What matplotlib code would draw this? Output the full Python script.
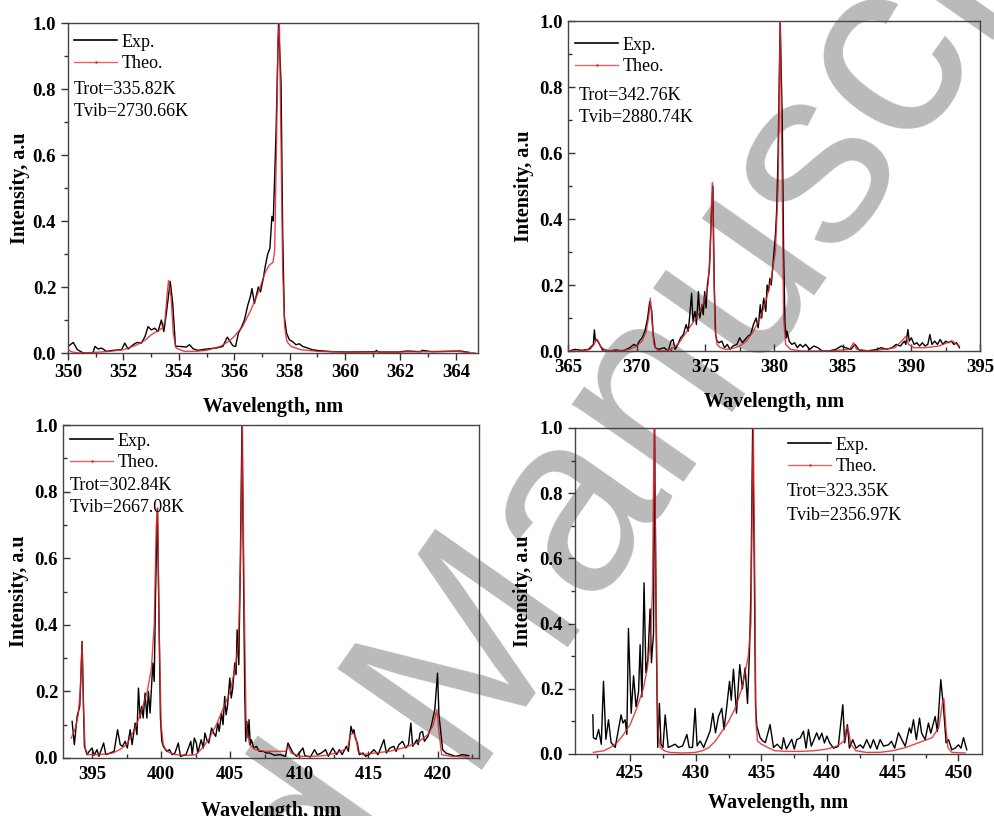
import numpy as np
import matplotlib
matplotlib.use("Agg")
import matplotlib.pyplot as plt
from matplotlib.lines import Line2D
from matplotlib.ticker import MultipleLocator

plt.rcParams['font.family'] = ['Liberation Serif', 'DejaVu Serif']

# ---------------- data (wavelength nm, normalised intensity) ----------------
p1_exp = [(350.0,0.02),(350.19,0.032),(350.34,0.01),(350.55,0.0),(350.9,0.0),(350.97,0.02),(351.09,0.012),(351.21,0.015),
          (351.39,0.005),(351.63,0.008),(351.93,0.01),(352.05,0.03),(352.17,0.012),(352.35,0.025),(352.49,0.032),(352.65,0.03),
          (352.78,0.05),(352.89,0.08),(353.01,0.07),(353.13,0.075),(353.25,0.065),(353.37,0.1),(353.46,0.065),(353.55,0.12),
          (353.69,0.217),(353.78,0.15),(353.88,0.02),(354.03,0.02),(354.27,0.018),(354.39,0.025),(354.51,0.013),(354.69,0.008),
          (354.99,0.012),(355.35,0.015),(355.59,0.02),(355.75,0.048),(355.95,0.022),(356.05,0.02),(356.15,0.06),(356.25,0.076),
          (356.37,0.1),(356.49,0.145),(356.58,0.17),(356.64,0.195),(356.73,0.15),(356.87,0.2),(356.95,0.185),(357.05,0.226),
          (357.12,0.263),(357.21,0.3),(357.29,0.318),(357.36,0.414),(357.41,0.4),(357.51,0.67),(357.6,1.0),(357.69,0.82),
          (357.75,0.36),(357.81,0.11),(357.89,0.06),(357.99,0.04),(358.1,0.035),(358.23,0.025),(358.35,0.028),(358.47,0.02),
          (358.65,0.015),(358.82,0.01),(359.06,0.007),(359.54,0.004),(360.14,0.003),(361.1,0.004),(361.13,0.008),(361.2,0.003),
          (361.94,0.003),(362.24,0.006),(362.72,0.004),(362.78,0.008),(363.14,0.004),(364.16,0.006),(364.46,0.002)]
p1_theo = [(350.0,0.01),(350.15,0.003),(350.4,0.0),(351.0,0.002),(351.5,0.005),(352.0,0.01),(352.5,0.025),(352.8,0.04),
           (353.0,0.055),(353.2,0.065),(353.4,0.075),(353.5,0.095),(353.57,0.17),(353.63,0.22),(353.72,0.17),(353.8,0.06),
           (353.9,0.015),(354.2,0.005),(354.6,0.005),(355.0,0.008),(355.5,0.02),(355.8,0.035),(356.0,0.05),(356.3,0.08),
           (356.6,0.13),(356.9,0.19),(357.1,0.24),(357.25,0.265),(357.4,0.275),(357.46,0.31),(357.52,0.6),(357.58,0.95),
           (357.63,1.0),(357.68,0.7),(357.75,0.25),(357.82,0.08),(357.9,0.035),(358.05,0.02),(358.4,0.01),(359.0,0.005),
           (360.0,0.003),(362.0,0.003),(364.0,0.005),(364.7,0.0)]

p2_exp = [(365.1,0.0),(365.5,0.005),(366.0,0.002),(366.5,0.005),(366.85,0.02),(366.92,0.064),(367.0,0.03),(367.1,0.035),
          (367.3,0.02),(367.5,0.005),(368.0,0.0),(368.5,0.003),(369.0,0.0),(369.5,0.01),(369.8,0.02),(370.0,0.015),(370.2,0.03),
          (370.4,0.04),(370.6,0.06),(370.8,0.1),(370.95,0.15),(371.1,0.12),(371.2,0.05),(371.35,0.01),(371.6,0.005),(372.0,0.01),
          (372.3,0.0),(372.5,0.03),(372.65,0.035),(372.8,0.005),(373.0,0.02),(373.2,0.04),(373.4,0.05),(373.6,0.08),(373.75,0.06),
          (373.85,0.1),(374.0,0.175),(374.1,0.09),(374.25,0.12),(374.35,0.08),(374.5,0.18),(374.6,0.1),(374.75,0.14),(374.85,0.11),
          (374.95,0.18),(375.05,0.13),(375.15,0.2),(375.3,0.25),(375.45,0.42),(375.55,0.5),(375.65,0.2),(375.75,0.05),(375.85,0.03),
          (376.0,0.025),(376.2,0.03),(376.4,0.01),(376.6,0.02),(376.8,0.005),(377.0,0.015),(377.3,0.02),(377.5,0.04),(377.7,0.025),
          (377.9,0.035),(378.1,0.045),(378.3,0.05),(378.5,0.08),(378.7,0.1),(378.85,0.07),(379.0,0.14),(379.1,0.1),(379.25,0.16),
          (379.4,0.12),(379.5,0.2),(379.6,0.18),(379.7,0.22),(379.8,0.2),(379.9,0.25),(380.0,0.3),(380.1,0.35),(380.2,0.43),
          (380.3,0.6),(380.45,1.0),(380.6,0.7),(380.7,0.3),(380.8,0.08),(380.9,0.04),(380.95,0.06),(381.1,0.03),(381.3,0.02),
          (381.5,0.025),(381.7,0.01),(381.9,0.02),(382.1,0.012),(382.3,0.02),(382.6,0.005),(382.9,0.015),(383.2,0.01),(383.5,0.0),
          (384.0,0.0),(384.5,0.005),(384.9,0.015),(385.2,0.01),(385.6,0.005),(385.9,0.02),(386.2,0.003),(386.8,0.0),(387.5,0.005),
          (387.8,0.01),(388.2,0.005),(388.6,0.01),(388.9,0.02),(389.2,0.015),(389.5,0.03),(389.6,0.02),(389.75,0.065),(389.85,0.03),
          (390.0,0.04),(390.2,0.02),(390.4,0.025),(390.6,0.015),(390.8,0.025),(391.0,0.015),(391.2,0.02),(391.35,0.05),(391.5,0.02),
          (391.7,0.03),(391.9,0.02),(392.1,0.035),(392.3,0.02),(392.5,0.03),(392.7,0.025),(392.9,0.03),(393.1,0.02),(393.3,0.025),
          (393.5,0.01)]
p2_theo = [(365.0,0.0),(366.0,0.0),(366.6,0.005),(366.9,0.02),(367.05,0.035),(367.2,0.03),(367.4,0.01),(367.8,0.002),
           (368.5,0.0),(369.5,0.005),(370.0,0.015),(370.4,0.03),(370.7,0.06),(370.9,0.11),(371.0,0.16),(371.1,0.1),(371.25,0.02),
           (371.5,0.003),(372.0,0.0),(372.5,0.005),(373.0,0.02),(373.5,0.05),(374.0,0.08),(374.5,0.11),(374.9,0.15),(375.2,0.2),
           (375.35,0.3),(375.45,0.45),(375.52,0.51),(375.6,0.3),(375.7,0.07),(375.85,0.02),(376.1,0.01),(376.5,0.005),(377.0,0.008),
           (377.5,0.015),(378.0,0.03),(378.5,0.06),(379.0,0.1),(379.4,0.15),(379.8,0.22),(380.1,0.3),(380.3,0.5),(380.45,1.0),
           (380.6,0.5),(380.7,0.1),(380.85,0.02),(381.2,0.005),(382.0,0.0),(384.0,0.0),(385.5,0.005),(385.8,0.025),(386.0,0.005),
           (387.0,0.0),(388.0,0.005),(388.8,0.01),(389.3,0.03),(389.6,0.045),(389.8,0.02),(390.2,0.01),(391.0,0.01),(392.0,0.015),
           (392.6,0.025),(393.0,0.03),(393.5,0.015)]

p3_exp = [(393.56,0.11),(393.72,0.04),(393.92,0.125),(394.11,0.155),(394.2,0.25),(394.28,0.35),(394.36,0.2),(394.45,0.035),
          (394.64,0.01),(394.8,0.02),(395.0,0.03),(395.15,0.008),(395.36,0.025),(395.5,0.005),(395.84,0.045),(396.0,0.01),
          (396.32,0.015),(396.6,0.02),(396.85,0.085),(397.04,0.04),(397.2,0.035),(397.4,0.05),(397.55,0.03),(397.76,0.085),
          (397.9,0.04),(398.12,0.105),(398.25,0.07),(398.36,0.21),(398.48,0.12),(398.6,0.155),(398.7,0.12),(398.84,0.195),
          (398.97,0.12),(399.08,0.2),(399.2,0.135),(399.4,0.285),(399.5,0.23),(399.6,0.5),(399.73,0.75),(399.85,0.4),(399.95,0.12),
          (400.05,0.05),(400.16,0.035),(400.4,0.02),(400.6,0.025),(400.8,0.01),(401.0,0.015),(401.24,0.045),(401.4,0.005),
          (401.8,0.01),(402.15,0.05),(402.25,0.01),(402.4,0.06),(402.55,0.045),(402.65,0.015),(402.9,0.055),(403.05,0.03),
          (403.17,0.075),(403.3,0.055),(403.45,0.045),(403.65,0.09),(403.8,0.075),(403.95,0.065),(404.1,0.105),(404.2,0.08),
          (404.37,0.135),(404.48,0.1),(404.6,0.185),(404.7,0.13),(404.8,0.155),(404.97,0.24),(405.07,0.18),(405.17,0.205),
          (405.33,0.285),(405.42,0.25),(405.5,0.385),(405.62,0.28),(405.72,0.55),(405.85,1.0),(405.95,0.6),(406.05,0.2),
          (406.12,0.05),(406.2,0.11),(406.3,0.06),(406.36,0.115),(406.45,0.04),(406.53,0.055),(406.7,0.03),(406.9,0.035),
          (407.1,0.02),(407.4,0.02),(407.6,0.015),(407.86,0.015),(408.2,0.008),(408.6,0.01),(409.0,0.005),(409.18,0.045),
          (409.3,0.035),(409.54,0.015),(409.8,0.005),(410.26,0.03),(410.4,0.007),(410.8,0.003),(411.1,0.025),(411.3,0.01),
          (411.6,0.015),(411.9,0.025),(412.1,0.005),(412.42,0.03),(412.7,0.01),(412.9,0.025),(413.1,0.01),(413.4,0.035),
          (413.55,0.02),(413.74,0.095),(413.86,0.075),(413.95,0.085),(414.05,0.06),(414.2,0.045),(414.34,0.01),(414.6,0.015),
          (414.8,0.005),(415.05,0.01),(415.4,0.025),(415.7,0.01),(416.12,0.055),(416.3,0.015),(416.55,0.03),(416.84,0.035),
          (417.0,0.02),(417.2,0.04),(417.47,0.05),(417.7,0.03),(417.9,0.04),(418.07,0.105),(418.2,0.035),(418.5,0.055),
          (418.6,0.04),(418.74,0.075),(418.91,0.08),(419.05,0.05),(419.3,0.065),(419.54,0.095),(419.8,0.145),(420.0,0.255),
          (420.1,0.13),(420.37,0.025),(420.6,0.015),(420.95,0.01),(421.3,0.005),(421.8,0.01),(422.27,0.007)]
p3_theo = [(393.5,0.06),(393.8,0.09),(394.0,0.13),(394.15,0.2),(394.28,0.35),(394.38,0.15),(394.5,0.03),(394.7,0.01),
           (395.5,0.01),(396.0,0.012),(396.5,0.015),(397.0,0.025),(397.5,0.04),(398.0,0.08),(398.5,0.13),(399.0,0.2),
           (399.3,0.27),(399.5,0.4),(399.65,0.7),(399.75,0.75),(399.85,0.4),(400.0,0.1),(400.15,0.04),(400.4,0.02),(401.0,0.01),
           (402.0,0.008),(402.5,0.01),(403.0,0.03),(403.5,0.06),(404.0,0.1),(404.5,0.15),(405.0,0.2),(405.4,0.28),(405.6,0.35),
           (405.75,0.6),(405.88,1.0),(406.0,0.5),(406.15,0.1),(406.4,0.04),(406.8,0.025),(407.5,0.02),(408.5,0.02),(409.0,0.02),
           (409.2,0.035),(409.4,0.015),(410.0,0.005),(411.0,0.005),(412.0,0.008),(413.0,0.02),(413.5,0.03),(413.7,0.07),
           (413.9,0.075),(414.1,0.06),(414.25,0.02),(414.6,0.01),(415.5,0.015),(416.5,0.02),(417.5,0.03),(418.5,0.045),
           (419.3,0.07),(419.7,0.1),(419.95,0.145),(420.1,0.08),(420.3,0.01),(421.0,0.005),(422.2,0.003)]

p4_exp = [(422.16,0.12),(422.2,0.05),(422.4,0.045),(422.6,0.075),(422.8,0.03),(422.97,0.223),(423.15,0.045),(423.35,0.105),
          (423.55,0.035),(423.86,0.02),(424.11,0.075),(424.31,0.12),(424.45,0.095),(424.62,0.105),(424.75,0.06),(424.87,0.385),
          (425.08,0.125),(425.26,0.24),(425.45,0.145),(425.64,0.19),(425.76,0.335),(425.9,0.175),(426.06,0.525),(426.2,0.25),
          (426.35,0.29),(426.52,0.445),(426.62,0.28),(426.78,0.37),(426.86,1.0),(426.98,0.4),(427.1,0.02),(427.23,0.155),
          (427.35,0.03),(427.5,0.02),(427.67,0.12),(427.9,0.02),(428.17,0.025),(428.43,0.03),(428.68,0.02),(429.0,0.025),
          (429.32,0.06),(429.5,0.02),(429.75,0.02),(429.95,0.14),(430.1,0.025),(430.33,0.04),(430.6,0.02),(430.84,0.045),
          (431.09,0.07),(431.3,0.125),(431.5,0.065),(431.73,0.115),(431.98,0.14),(432.15,0.075),(432.36,0.146),(432.57,0.223),
          (432.7,0.165),(432.87,0.26),(433.1,0.125),(433.35,0.274),(433.55,0.2),(433.76,0.264),(433.94,0.155),(434.09,0.315),
          (434.2,0.5),(434.33,1.0),(434.45,0.6),(434.55,0.15),(434.65,0.085),(434.9,0.05),(435.1,0.04),(435.3,0.035),
          (435.66,0.09),(435.92,0.02),(436.2,0.03),(436.55,0.015),(436.68,0.05),(436.9,0.015),(437.31,0.045),(437.5,0.015),
          (437.69,0.044),(437.95,0.049),(438.2,0.07),(438.4,0.018),(438.58,0.075),(438.8,0.024),(439.21,0.065),(439.4,0.044),
          (439.6,0.064),(439.8,0.034),(439.98,0.055),(440.2,0.034),(440.49,0.018),(440.85,0.023),(441.2,0.151),(441.34,0.034),
          (441.55,0.09),(441.7,0.018),(441.96,0.044),(442.2,0.018),(442.52,0.028),(442.75,0.018),(443.02,0.044),(443.3,0.018),
          (443.53,0.044),(443.8,0.015),(444.04,0.044),(444.3,0.024),(444.67,0.028),(444.9,0.039),(445.15,0.018),(445.44,0.065),
          (445.69,0.044),(445.95,0.024),(446.27,0.08),(446.4,0.064),(446.58,0.105),(446.8,0.044),(447.04,0.11),(447.2,0.064),
          (447.47,0.044),(447.72,0.095),(447.9,0.064),(448.23,0.115),(448.4,0.069),(448.66,0.228),(448.86,0.146),(449.07,0.034),
          (449.25,0.044),(449.5,0.013),(449.75,0.018),(450.01,0.028),(450.2,0.018),(450.39,0.05),(450.64,0.013)]
p4_theo = [(422.2,0.005),(423.0,0.01),(423.5,0.02),(424.0,0.035),(424.5,0.06),(425.0,0.09),(425.5,0.14),(426.0,0.2),
           (426.3,0.26),(426.55,0.35),(426.7,0.5),(426.8,0.9),(426.85,1.0),(426.95,0.6),(427.05,0.2),(427.15,0.06),(427.3,0.02),
           (427.6,0.01),(428.0,0.005),(429.0,0.003),(430.0,0.005),(430.5,0.01),(431.0,0.02),(431.5,0.04),(432.0,0.07),
           (432.5,0.1),(433.0,0.14),(433.5,0.2),(434.0,0.3),(434.2,0.4),(434.3,0.8),(434.38,1.0),(434.48,0.6),(434.58,0.1),
           (434.7,0.04),(435.0,0.03),(435.5,0.02),(436.0,0.01),(437.0,0.008),(438.0,0.008),(439.0,0.01),(440.0,0.015),
           (440.8,0.025),(441.3,0.04),(441.5,0.085),(441.65,0.07),(441.8,0.03),(442.2,0.01),(443.0,0.005),(444.0,0.005),
           (445.0,0.01),(446.0,0.02),(447.0,0.035),(448.0,0.05),(448.5,0.08),(448.8,0.16),(448.9,0.17),(449.05,0.08),
           (449.2,0.02),(449.5,0.005),(450.5,0.003)]

trot = ["Trot=335.82K", "Trot=342.76K", "Trot=302.84K", "Trot=323.35K"]
tvib = ["Tvib=2730.66K", "Tvib=2880.74K", "Tvib=2667.08K", "Tvib=2356.97K"]
xlims = [(350, 364.8), (365, 395), (392.9, 423.0), (420.8, 451.8)]
xmajor = [2, 5, 5, 5]
tick_dir = ['out', 'in', 'in', 'out']
xtick_pad = [3, 6, 6, 3]
xlabel_pad = [11.5, 11, 13, 7.5]
ylabel_pad = [2, 4, 4, 5]

# ---------------- layout (pixel boxes: left, top, right, bottom) ----------------
W, H = 994, 816
boxes = [(68, 23, 478, 353), (568, 21, 980, 351), (63, 425, 479, 758), (575, 428, 982, 754)]
legend_anchor = [(74, 53), (575, 56), (70, 452), (788, 456)]
text_pos = [((74, 89), (74, 112)), ((579, 96), (579, 118)), ((70, 485), (70, 507)), ((787, 492), (787, 516))]

def fx(x): return x / W
def fy(y): return 1 - y / H

fig = plt.figure(figsize=(W / 100, H / 100), dpi=100)
RED = '#e0242c'
series = [(p1_exp, p1_theo), (p2_exp, p2_theo), (p3_exp, p3_theo), (p4_exp, p4_theo)]

# watermark of the source page (behind everything)
WM = dict(fontsize=184, color='#bababa', rotation=55, rotation_mode='anchor',
          va='baseline', family='Liberation Sans', zorder=-5)
fig.text(fx(462), fy(770), 'Manuscript', ha='left', **WM)
fig.text(fx(462), fy(770), 'Accepted ', ha='right', **WM)

for i, (l, t, r, b) in enumerate(boxes):
    ax = fig.add_axes([fx(l), fy(b), (r - l) / W, (b - t) / H])
    ax.patch.set_alpha(0)
    e = np.array(series[i][0]); th = np.array(series[i][1])
    ax.plot(e[:, 0], e[:, 1], color='black', lw=1.0, zorder=2)
    ax.plot(th[:, 0], th[:, 1], color=RED, lw=1.0, alpha=0.85, zorder=3)
    ax.set_xlim(*xlims[i]); ax.set_ylim(0, 1.0)
    ax.xaxis.set_major_locator(MultipleLocator(xmajor[i]))
    ax.xaxis.set_minor_locator(MultipleLocator(xmajor[i] / 2))
    ax.yaxis.set_major_locator(MultipleLocator(0.2))
    ax.yaxis.set_minor_locator(MultipleLocator(0.1))
    ax.tick_params(which='both', direction=tick_dir[i], top=False, right=False, colors='#333333',
                   labelcolor='black', width=1.0)
    ax.tick_params(which='major', length=5, labelsize=13.5)
    ax.tick_params(axis='x', which='major', pad=xtick_pad[i])
    ax.tick_params(which='minor', length=3)
    for lab in ax.get_xticklabels() + ax.get_yticklabels():
        lab.set_fontweight('bold')
    for s in ax.spines.values():
        s.set_color('#444444'); s.set_linewidth(1.0)
    ax.set_xlabel('Wavelength, nm', fontsize=14.5, fontweight='bold', labelpad=xlabel_pad[i])
    ax.set_ylabel('Intensity, a.u', fontsize=14.5, fontweight='bold', labelpad=ylabel_pad[i])
    handles = [Line2D([], [], color='black', lw=1.2),
               Line2D([], [], color=RED, lw=1.0, alpha=0.7, marker='.', markersize=2)]
    ax_x, ax_y = legend_anchor[i]
    ax.legend(handles, ['Exp.', 'Theo.'], loc='center left', bbox_to_anchor=(fx(ax_x), fy(ax_y)),
              bbox_transform=fig.transFigure, frameon=False, fontsize=13, handlelength=2.4,
              handletextpad=0.25, labelspacing=0.25, borderpad=0, borderaxespad=0)
    (x1, y1), (x2, y2) = text_pos[i]
    fig.text(fx(x1), fy(y1), trot[i], fontsize=13, ha='left', va='center')
    fig.text(fx(x2), fy(y2), tvib[i], fontsize=13, ha='left', va='center')

fig.savefig('out.png', dpi=100)
